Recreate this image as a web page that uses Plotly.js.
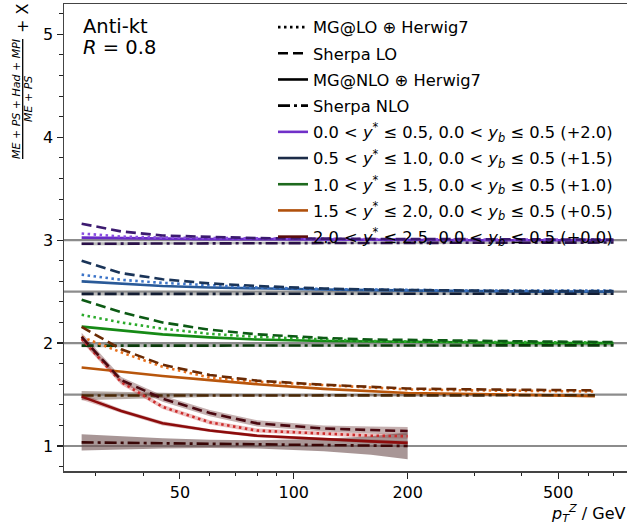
<!DOCTYPE html>
<html>
<head>
<meta charset="utf-8">
<script src="https://cdn.plot.ly/plotly-3.0.1.min.js"></script>
<style>html,body{margin:0;padding:0;background:#fff;}#chart{width:627px;height:525px;}</style>
</head>
<body>
<div id="chart"></div>
<script>
// ---------------- data ----------------
const pt       = [27.5, 35, 45, 60, 80, 120, 160, 200, 300, 450, 700];
const ptOrange = [27.5, 35, 45, 60, 80, 120, 160, 200, 300, 450, 625];
const ptRed    = [27.5, 35, 45, 60, 80, 120, 160, 200];

const offsets = [2.0, 1.5, 1.0, 0.5, 0.0];
const groupLabels = [
  "0.0 &lt; <i>y</i><sup>*</sup> ≤ 0.5, 0.0 &lt; <i>y</i><sub><i>b</i></sub> ≤ 0.5 (+2.0)",
  "0.5 &lt; <i>y</i><sup>*</sup> ≤ 1.0, 0.0 &lt; <i>y</i><sub><i>b</i></sub> ≤ 0.5 (+1.5)",
  "1.0 &lt; <i>y</i><sup>*</sup> ≤ 1.5, 0.0 &lt; <i>y</i><sub><i>b</i></sub> ≤ 0.5 (+1.0)",
  "1.5 &lt; <i>y</i><sup>*</sup> ≤ 2.0, 0.0 &lt; <i>y</i><sub><i>b</i></sub> ≤ 0.5 (+0.5)",
  "2.0 &lt; <i>y</i><sup>*</sup> ≤ 2.5, 0.0 &lt; <i>y</i><sub><i>b</i></sub> ≤ 0.5 (+0.0)"
];
const modelLabels = ["MG@LO ⊕ Herwig7", "Sherpa LO", "MG@NLO ⊕ Herwig7", "Sherpa NLO"];

// 0.0 < y* <= 0.5
const mgLO_0   = [1.065, 1.035, 1.025, 1.02, 1.015, 1.01, 1.01, 1.008, 1.005, 1.005, 1.005];
const shLO_0   = [1.16, 1.085, 1.045, 1.03, 1.02, 1.015, 1.01, 1.01, 1.01, 1.005, 1.005];
const mgNLO_0  = [1.025, 1.02, 1.015, 1.01, 1.01, 1.005, 1.005, 1.0, 1.0, 1.0, 1.0];
const shNLO_0  = [0.965, 0.965, 0.97, 0.97, 0.97, 0.972, 0.973, 0.974, 0.975, 0.976, 0.977];
const shNLOe_0 = [0.015, 0.015, 0.012, 0.012, 0.012, 0.012, 0.012, 0.012, 0.012, 0.012, 0.012];
// 0.5 < y* <= 1.0
const mgLO_1   = [1.165, 1.115, 1.085, 1.06, 1.04, 1.025, 1.02, 1.015, 1.01, 1.01, 1.01];
const shLO_1   = [1.30, 1.18, 1.12, 1.08, 1.055, 1.03, 1.02, 1.015, 1.01, 1.005, 1.005];
const mgNLO_1  = [1.10, 1.075, 1.055, 1.04, 1.03, 1.02, 1.015, 1.01, 1.005, 1.0, 1.0];
const shNLO_1  = [0.978, 0.978, 0.979, 0.979, 0.98, 0.98, 0.98, 0.98, 0.98, 0.98, 0.98];
const shNLOe_1 = [0.015, 0.015, 0.012, 0.012, 0.012, 0.012, 0.012, 0.012, 0.012, 0.012, 0.012];
// 1.0 < y* <= 1.5
const mgLO_2   = [1.275, 1.20, 1.14, 1.09, 1.06, 1.035, 1.02, 1.015, 1.01, 1.01, 1.005];
const shLO_2   = [1.42, 1.30, 1.20, 1.13, 1.085, 1.05, 1.035, 1.03, 1.02, 1.015, 1.01];
const mgNLO_2  = [1.16, 1.125, 1.085, 1.055, 1.035, 1.02, 1.015, 1.01, 1.005, 1.0, 1.0];
const shNLO_2  = [0.975, 0.975, 0.976, 0.976, 0.977, 0.977, 0.978, 0.978, 0.978, 0.978, 0.978];
const shNLOe_2 = [0.015, 0.015, 0.012, 0.012, 0.012, 0.012, 0.012, 0.012, 0.012, 0.012, 0.012];
// 1.5 < y* <= 2.0
const mgLO_3   = [1.56, 1.41, 1.27, 1.165, 1.125, 1.09, 1.065, 1.05, 1.04, 1.035, 1.03];
const shLO_3   = [1.657, 1.44, 1.29, 1.19, 1.135, 1.095, 1.075, 1.058, 1.05, 1.045, 1.04];
const mgNLO_3  = [1.262, 1.22, 1.18, 1.14, 1.10, 1.055, 1.03, 1.015, 1.005, 0.995, 0.985];
const shNLO_3  = [0.99, 0.99, 0.991, 0.992, 0.992, 0.993, 0.993, 0.993, 0.993, 0.993, 0.993];
const shNLOe_3 = [0.045, 0.035, 0.025, 0.015, 0.012, 0.01, 0.01, 0.01, 0.01, 0.01, 0.01];
// 2.0 < y* <= 2.5
const mgLO_4   = [2.04, 1.62, 1.38, 1.23, 1.15, 1.12, 1.10, 1.095];
const mgLOe_4  = [0.03, 0.025, 0.02, 0.02, 0.02, 0.02, 0.02, 0.025];
const shLO_4   = [2.06, 1.64, 1.46, 1.32, 1.22, 1.17, 1.155, 1.145];
const shLOe_4  = [0.04, 0.03, 0.03, 0.03, 0.03, 0.03, 0.035, 0.04];
const mgNLO_4  = [1.48, 1.34, 1.22, 1.15, 1.10, 1.065, 1.045, 1.03];
const mgNLOe_4 = [0.03, 0.02, 0.02, 0.015, 0.015, 0.015, 0.02, 0.02];
const shNLO_4  = [1.035, 1.03, 1.025, 1.02, 1.015, 1.01, 1.005, 1.0];
const shNLOe_4 = [0.08, 0.065, 0.05, 0.04, 0.04, 0.06, 0.09, 0.13];

const yTicks = [1, 2, 3, 4, 5];
const yMinor = [0.8, 1.2, 1.4, 1.6, 1.8, 2.2, 2.4, 2.6, 2.8, 3.2, 3.4, 3.6, 3.8, 4.2, 4.4, 4.6, 4.8, 5.2];
const xTicks = [50, 100, 200, 500];
const xMinor = [30, 40, 60, 70, 80, 90, 300, 400, 600, 700];

// ---------------- styles ----------------
const legendColors = ["#7030c8", "#1c2c48", "#1e6a1e", "#b0500c", "#5a0c0c"];
const lineColors = [ // [dot, dash, solid, dashdot]
  ["#8a4ee0", "#3c1a70", "#6a2cc8", "#2a1048"],
  ["#3c74c8", "#1a3458", "#2a5a98", "#141e34"],
  ["#2aaa2a", "#0c5a14", "#168a16", "#0c3c0c"],
  ["#e8701c", "#6a2a04", "#b8560c", "#4a2806"],
  ["#cc2a2a", "#4a0810", "#8c0c0c", "#3a0606"]
];
const dashes = ["2.5px,3.5px", "10px,5px", "solid", "12px,4px,3px,4px"];
const dashNLOBand = ["rgba(140,140,140,0.6)", "rgba(140,140,140,0.6)", "rgba(140,140,140,0.6)",
                     "rgba(125,105,95,0.55)", "rgba(110,80,80,0.6)"];

const groups = [
  {x: pt,       v: [mgLO_0, shLO_0, mgNLO_0, shNLO_0], e: [null, null, null, shNLOe_0]},
  {x: pt,       v: [mgLO_1, shLO_1, mgNLO_1, shNLO_1], e: [null, null, null, shNLOe_1]},
  {x: pt,       v: [mgLO_2, shLO_2, mgNLO_2, shNLO_2], e: [null, null, null, shNLOe_2]},
  {x: ptOrange, v: [mgLO_3, shLO_3, mgNLO_3, shNLO_3], e: [null, null, null, shNLOe_3]},
  {x: ptRed,    v: [mgLO_4, shLO_4, mgNLO_4, shNLO_4], e: [mgLOe_4, shLOe_4, mgNLOe_4, shNLOe_4]}
];
const bandColorsRed = ["rgba(200,70,70,0.35)", "rgba(90,30,30,0.35)", "rgba(140,30,30,0.3)"];

const traces = [];
// bands
groups.forEach((g, gi) => {
  g.e.forEach((err, mi) => {
    if (!err) return;
    const off = offsets[gi];
    const up = g.v[mi].map((v, i) => v + off + err[i]);
    const lo = g.v[mi].map((v, i) => v + off - err[i]);
    const col = mi === 3 ? dashNLOBand[gi] : bandColorsRed[mi];
    traces.push({
      x: g.x.concat(g.x.slice().reverse()),
      y: up.concat(lo.slice().reverse()),
      type: "scatter", mode: "lines", fill: "toself", fillcolor: col,
      line: {width: 0}, showlegend: false, hoverinfo: "skip"
    });
  });
});
// lines
const drawOrder = [2, 0, 1, 3];
groups.forEach((g, gi) => {
  drawOrder.forEach(mi => {
    traces.push({
      x: g.x, y: g.v[mi].map(v => v + offsets[gi]),
      type: "scatter", mode: "lines",
      line: {color: lineColors[gi][mi], width: 2.6, dash: dashes[mi]},
      showlegend: false
    });
  });
});
// legend entries
modelLabels.forEach((lab, i) => {
  traces.push({x: [null], y: [null], type: "scatter", mode: "lines", name: lab,
    legendgroup: "m" + i, line: {color: "#000", width: 2.6, dash: dashes[i]}});
});
groupLabels.forEach((lab, i) => {
  traces.push({x: [null], y: [null], type: "scatter", mode: "lines", name: lab,
    legendgroup: "g" + i, line: {color: legendColors[i], width: 2.6}});
});

// ---------------- layout ----------------
const L = 64, T = 4, W = 627, H = 525, B = 54;
const pw = W - L, ph = H - T - B;
const px = p => (p - L) / pw;
const py = p => (H - B - p) / ph;

const shapes = offsets.map(o => ({
  type: "line", xref: "paper", yref: "y", x0: 0, x1: 1, y0: 1 + o, y1: 1 + o,
  line: {color: "#8c8c8c", width: 2.2}, layer: "below"
}));
shapes.push({type: "line", xref: "paper", yref: "paper",
  x0: px(22.7), x1: px(22.7), y0: py(39), y1: py(159), line: {color: "#000", width: 1.3}});

const font = "DejaVu Sans, sans-serif";
const annotations = [
  {text: "Anti-kt", x: px(81), y: py(26), xref: "paper", yref: "paper", xanchor: "left", yanchor: "middle",
   height: 20, showarrow: false, font: {size: 19.5, family: font, color: "#000"}},
  {text: "<i>R</i> = 0.8", x: px(81), y: py(46.5), xref: "paper", yref: "paper", xanchor: "left", yanchor: "middle",
   height: 20, showarrow: false, font: {size: 19.5, family: font, color: "#000"}},
  {text: "<i>ME</i> + <i>PS</i> + <i>Had</i> + <i>MPI</i>", x: px(17), y: py(99), xref: "paper", yref: "paper",
   xanchor: "center", yanchor: "middle", textangle: -90, showarrow: false,
   font: {size: 11, family: font, color: "#000"}},
  {text: "<i>ME</i> + <i>PS</i>", x: px(29), y: py(99), xref: "paper", yref: "paper",
   xanchor: "center", yanchor: "middle", textangle: -90, showarrow: false,
   font: {size: 11, family: font, color: "#000"}},
  {text: "+ X", x: px(22), y: py(19), xref: "paper", yref: "paper",
   xanchor: "center", yanchor: "middle", textangle: -90, showarrow: false,
   font: {size: 16, family: font, color: "#000"}},
  {text: "<i>p</i><sub><i>T</i></sub><sup><i>Z</i></sup> / GeV", x: 1, y: py(513), xref: "paper", yref: "paper",
   xanchor: "right", yanchor: "middle", showarrow: false,
   font: {size: 16, family: font, color: "#000"}}
];

const layout = {
  width: W, height: H,
  margin: {l: L, r: 0, t: T, b: B, pad: 0},
  paper_bgcolor: "#fff", plot_bgcolor: "#fff",
  font: {family: font, size: 16, color: "#000"},
  showlegend: true,
  legend: {x: px(273), y: py(10), xanchor: "left", yanchor: "top", xref: "paper", yref: "paper",
    bgcolor: "rgba(0,0,0,0)", borderwidth: 0, traceorder: "grouped", tracegroupgap: 2,
    font: {size: 16.3, family: font, color: "#000"}, itemwidth: 30},
  xaxis: {type: "log", range: [Math.log10(24.7), Math.log10(760)],
    tickmode: "array", tickvals: xTicks, ticktext: xTicks.map(String),
    ticks: "outside", ticklen: 6, tickwidth: 1.2, tickcolor: "#222",
    showline: true, linecolor: "#444", linewidth: 1.5, mirror: true,
    showgrid: false, zeroline: false, tickfont: {size: 16, family: font},
    minor: {tickmode: "array", tickvals: xMinor, ticks: "outside", ticklen: 3.5, tickwidth: 1, tickcolor: "#222", showgrid: false}},
  yaxis: {range: [0.757, 5.295],
    tickmode: "array", tickvals: yTicks, ticktext: yTicks.map(String),
    ticks: "outside", ticklen: 6, tickwidth: 1.2, tickcolor: "#222",
    showline: true, linecolor: "#444", linewidth: 1.5,
    showgrid: false, zeroline: false, tickfont: {size: 16, family: font},
    minor: {tickmode: "array", tickvals: yMinor, ticks: "outside", ticklen: 3.5, tickwidth: 1, tickcolor: "#222", showgrid: false}},
  shapes: shapes,
  annotations: annotations
};

Plotly.newPlot("chart", traces, layout, {staticPlot: true, displayModeBar: false});
</script>
</body>
</html>
